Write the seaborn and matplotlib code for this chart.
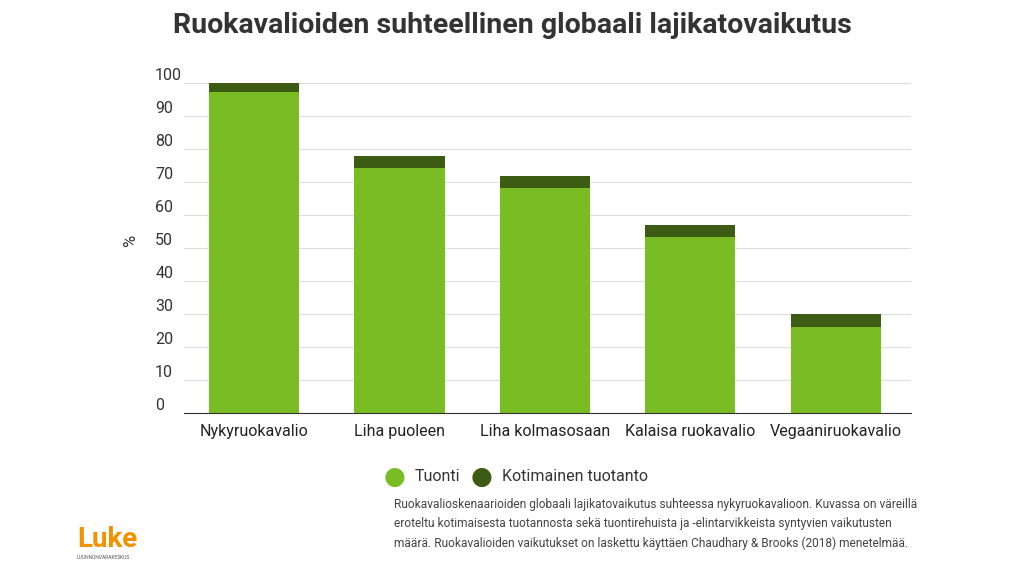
import matplotlib
matplotlib.use("Agg")
import matplotlib.pyplot as plt
import seaborn as sns
import pandas as pd

diets = ["Nykyruokavalio", "Liha puoleen", "Liha kolmasosaan", "Kalaisa ruokavalio", "Vegaaniruokavalio"]
tuonti = [97.3, 74.2, 68.2, 53.2, 26.2]
kotimainen = [2.7, 3.8, 3.6, 3.8, 3.8]
totals = [t + k for t, k in zip(tuonti, kotimainen)]

light = "#79bc23"
dark = "#3d5c13"

sns.set_style("white")
plt.rcParams["font.family"] = ["Roboto", "DejaVu Sans"]

fig = plt.figure(figsize=(10.24, 5.76), dpi=100)
ax = fig.add_axes([0.18, 0.283, 0.71, 0.573])

df = pd.DataFrame({"diet": diets, "total": totals, "tuonti": tuonti})
sns.barplot(data=df, x="diet", y="total", color=dark, width=0.62, saturation=1, linewidth=0, ax=ax)
sns.barplot(data=df, x="diet", y="tuonti", color=light, width=0.62, saturation=1, linewidth=0, ax=ax)

ax.set_ylim(0, 100)
ax.set_xlim(-0.48, 4.52)
ax.set_yticks(range(0, 101, 10))
ax.yaxis.grid(True, color="#dddddd", linewidth=0.8)
ax.set_axisbelow(True)
ax.set_xlabel("")
ax.set_ylabel("%", fontsize=12, color="#333333")
ax.yaxis.set_label_coords(-0.063, 0.52)
for s in ["top", "right", "left"]:
    ax.spines[s].set_visible(False)
ax.spines["bottom"].set_color("#333333")
ax.tick_params(axis="y", length=0, labelsize=11.5, labelcolor="#333333", pad=21)
for lab in ax.get_yticklabels():
    lab.set_horizontalalignment("left")
    lab.set_verticalalignment("bottom")
ax.tick_params(axis="x", length=0, labelsize=11.5, labelcolor="#222222", pad=8)

fig.text(0.5, 0.955, "Ruokavalioiden suhteellinen globaali lajikatovaikutus",
         ha="center", va="center", fontsize=20.5, fontweight="bold", color="#333333")

fig.text(0.385, 0.172, "●", ha="center", va="center", fontsize=18, color=light, family="DejaVu Sans")
fig.text(0.405, 0.172, "Tuonti", va="center", fontsize=11.5, color="#333333")
fig.text(0.47, 0.172, "●", ha="center", va="center", fontsize=18, color=dark, family="DejaVu Sans")
fig.text(0.49, 0.172, "Kotimainen tuotanto", va="center", fontsize=11.5, color="#333333")

note = ("Ruokavalioskenaarioiden globaali lajikatovaikutus suhteessa nykyruokavalioon. Kuvassa on väreillä\n"
        "eroteltu kotimaisesta tuotannosta sekä tuontirehuista ja -elintarvikkeista syntyvien vaikutusten\n"
        "määrä. Ruokavalioiden vaikutukset on laskettu käyttäen Chaudhary & Brooks (2018) menetelmää.")
fig.text(0.385, 0.045, note, fontsize=8.6, color="#444444", linespacing=1.6, va="bottom")

fig.text(0.075, 0.05, "Luke", fontsize=20, fontweight="bold", color="#f39200")
fig.text(0.075, 0.03, "LUONNONVARAKESKUS", fontsize=3.5, color="#555555")

fig.savefig("out.png", dpi=100)
